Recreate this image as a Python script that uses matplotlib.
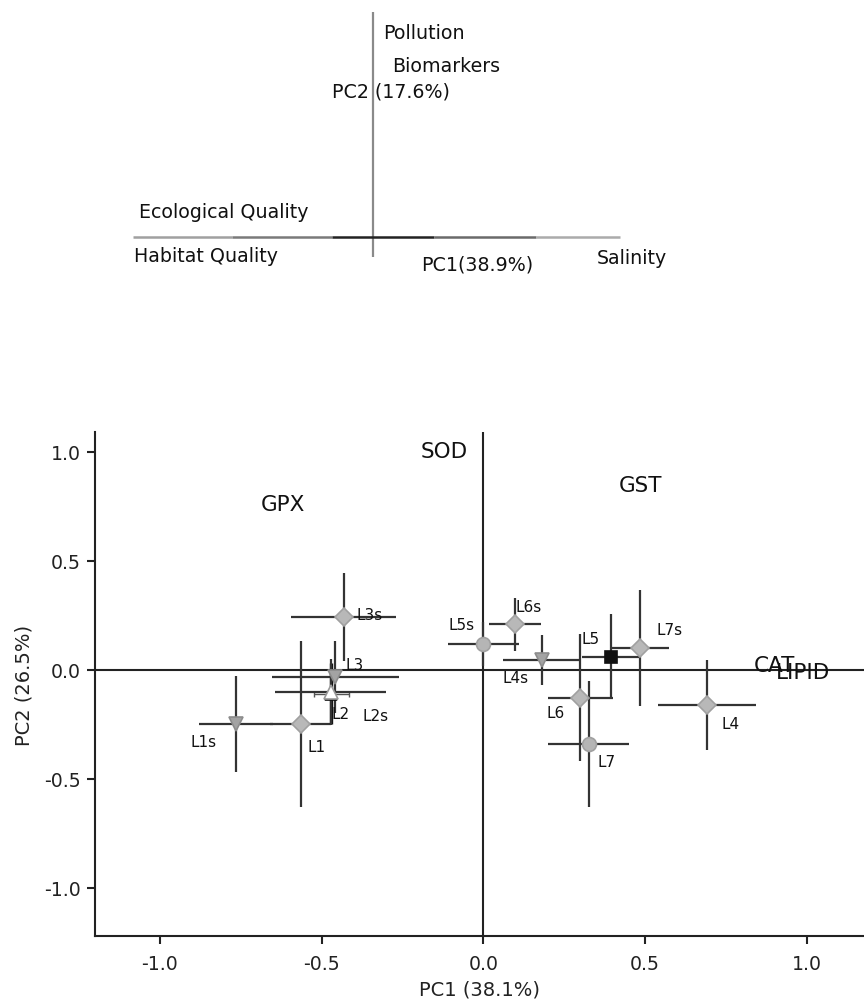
import matplotlib
matplotlib.use("Agg")
import matplotlib.pyplot as plt

# ---------------- data ----------------
sites = ['L1', 'L1s', 'L2', 'L2s', 'L3', 'L3s', 'L4', 'L4s',
         'L5', 'L5s', 'L6', 'L6s', 'L7', 'L7s']
pc1 = [-0.565, -0.765, -0.470, -0.472, -0.457, -0.431, 0.692, 0.182,
       0.394, 0.000, 0.299, 0.097, 0.325, 0.483]
pc2 = [-0.250, -0.250, -0.110, -0.102, -0.031, 0.242, -0.161, 0.046,
       0.061, 0.119, -0.128, 0.208, -0.339, 0.099]
pc1_err = [0.093, 0.114, 0.054, 0.171, 0.197, 0.162, 0.151, 0.120,
           0.090, 0.110, 0.100, 0.080, 0.125, 0.090]
pc2_err = [0.380, 0.220, 0.140, 0.150, 0.165, 0.203, 0.207, 0.115,
           0.195, 0.100, 0.290, 0.120, 0.290, 0.266]

variables = ['SOD', 'GST', 'GPX', 'CAT', 'LIPID']
var_pc1 = [-0.12, 0.485, -0.62, 0.898, 0.988]
var_pc2 = [1.005, 0.849, 0.761, 0.023, -0.009]

x_ticks = [-1.0, -0.5, 0.0, 0.5, 1.0]
y_ticks = [-1.0, -0.5, 0.0, 0.5, 1.0]
x_label = 'PC1 (38.1%)'
y_label = 'PC2 (26.5%)'

# schematic (top) : horizontal axis segments and labels
inset_h_breaks = [-1.0, -0.587, -0.172, 0.255, 0.68, 1.028]
inset_h_colors = ['#a0a0a0', '#7a7a7a', '#222222', '#6a6a6a', '#ababab']
inset_v_range = [-0.085, 0.936]
inset_texts = ['Pollution', 'Biomarkers', 'PC2 (17.6%)', 'Ecological Quality',
               'Habitat Quality', 'PC1(38.9%)', 'Salinity']
inset_text_x = [0.043, 0.078, -0.1725, -0.974, -0.998, 0.198, 0.9325]
inset_text_y = [0.849, 0.715, 0.607, 0.103, -0.080, -0.114, -0.085]

# ---------------- styles ----------------
marker_style = {
    'L1': ('D', 9, '#b8b8b8', '#a0a0a0'),
    'L1s': ('v', 10, '#a3a3a3', '#8c8c8c'),
    'L2': ('^', 8, '#111111', '#111111'),
    'L2s': ('^', 10, '#ffffff', '#9a9a9a'),
    'L3': ('v', 10, '#a3a3a3', '#8c8c8c'),
    'L3s': ('D', 9, '#b8b8b8', '#a0a0a0'),
    'L4': ('D', 9, '#b8b8b8', '#a0a0a0'),
    'L4s': ('v', 10, '#a3a3a3', '#8c8c8c'),
    'L5': ('s', 9, '#111111', '#111111'),
    'L5s': ('o', 10, '#b5b5b5', '#a0a0a0'),
    'L6': ('D', 9, '#b8b8b8', '#a0a0a0'),
    'L6s': ('D', 9, '#b8b8b8', '#a0a0a0'),
    'L7': ('o', 10, '#b5b5b5', '#a0a0a0'),
    'L7s': ('D', 9, '#b8b8b8', '#a0a0a0'),
}
# label offsets in pixels (dx to left edge, dy to center; up positive)
label_offset_px = {
    'L1': (6.7, -22.5), 'L1s': (-45, -17.5), 'L2': (0.3, -19.5),
    'L2s': (31.7, -23.2), 'L3': (10, 11.8), 'L3s': (12.6, 2.2),
    'L4': (14.5, -18.9), 'L4s': (-39.3, -17.3), 'L5': (-29, 17.7),
    'L5s': (-34.7, 19.3), 'L6': (-33.3, -14.4), 'L6s': (0.6, 18.4),
    'L7': (9.4, -17.8), 'L7s': (16.5, 18.7),
}

plt.rcParams['font.family'] = ['DejaVu Sans']
W, H = 864, 1003
fig = plt.figure(figsize=(W / 100, H / 100), dpi=100)

# ---------------- top schematic ----------------
axt = fig.add_axes([0, (H - 300) / H, 1, 300 / H])
axt.set_xlim(-373.2 / 240, (W - 373.2) / 240)
axt.set_ylim((237.7 - 300) / 240, 237.7 / 240)
axt.axis('off')
axt.plot([0, 0], inset_v_range, color='#8a8a8a', lw=1.6, solid_capstyle='butt')
for i, c in enumerate(inset_h_colors):
    axt.plot([inset_h_breaks[i], inset_h_breaks[i + 1]], [0, 0], color=c,
             lw=1.8, solid_capstyle='butt')
for t, x, y in zip(inset_texts, inset_text_x, inset_text_y):
    axt.text(x, y, t, ha='left', va='center', fontsize=13.7, color='#111111')

# ---------------- main PCA plot ----------------
ax = fig.add_axes([95 / W, 66 / H, (W - 95) / W, (937 - 433) / H])
ax.set_xlim(-1.2, 1.176)
ax.set_ylim(-1.22, 1.09)
for s in ['top', 'right']:
    ax.spines[s].set_visible(False)
for s in ['left', 'bottom']:
    ax.spines[s].set_color('#222222')
    ax.spines[s].set_linewidth(1.5)
ax.axhline(0, color='#222222', lw=1.5, zorder=1)
ax.axvline(0, color='#222222', lw=1.5, zorder=1)

for i, name in enumerate(sites):
    if name == 'L2':
        ax.errorbar(pc1[i], pc2[i], xerr=pc1_err[i], fmt='none',
                    ecolor='#555555', elinewidth=1.0, capsize=2,
                    capthick=1.0, zorder=2)
        ax.errorbar(pc1[i], pc2[i], yerr=pc2_err[i], fmt='none',
                    ecolor='#111111', elinewidth=2.4, capsize=0, zorder=2)
    else:
        ax.errorbar(pc1[i], pc2[i], xerr=pc1_err[i], yerr=pc2_err[i],
                    fmt='none', ecolor='#333333', elinewidth=1.6,
                    capsize=0, zorder=2)
order = ['L2'] + [n for n in sites if n != 'L2']
for name in order:
    i = sites.index(name)
    m, ms, fc, ec = marker_style[name]
    ax.plot(pc1[i], pc2[i], marker=m, ms=ms, mfc=fc, mec=ec, mew=1.2,
            linestyle='none', zorder=3)
    dx, dy = label_offset_px[name]
    ax.annotate(name, (pc1[i], pc2[i]), xytext=(dx * 0.72, dy * 0.72),
                textcoords='offset points', ha='left', va='center',
                fontsize=11, color='#111111', zorder=4)

for v, x, y in zip(variables, var_pc1, var_pc2):
    ax.text(x, y, v, ha='center', va='center', fontsize=15.5, color='#111111',
            zorder=4)

ax.set_xticks(x_ticks)
ax.set_yticks(y_ticks)
ax.set_xticklabels([f'{t:.1f}' for t in x_ticks])
ax.set_yticklabels([f'{t:.1f}' for t in y_ticks])
ax.tick_params(axis='both', direction='out', length=6, width=1.5,
               color='#222222', labelsize=13.6, labelcolor='#222222')
ax.tick_params(axis='x', pad=7)
ax.tick_params(axis='y', pad=4)
ax.set_xlabel(x_label, fontsize=14, color='#222222', labelpad=5)
ax.set_ylabel(y_label, fontsize=14, color='#222222', labelpad=8)

fig.savefig('out.png', dpi=100)
